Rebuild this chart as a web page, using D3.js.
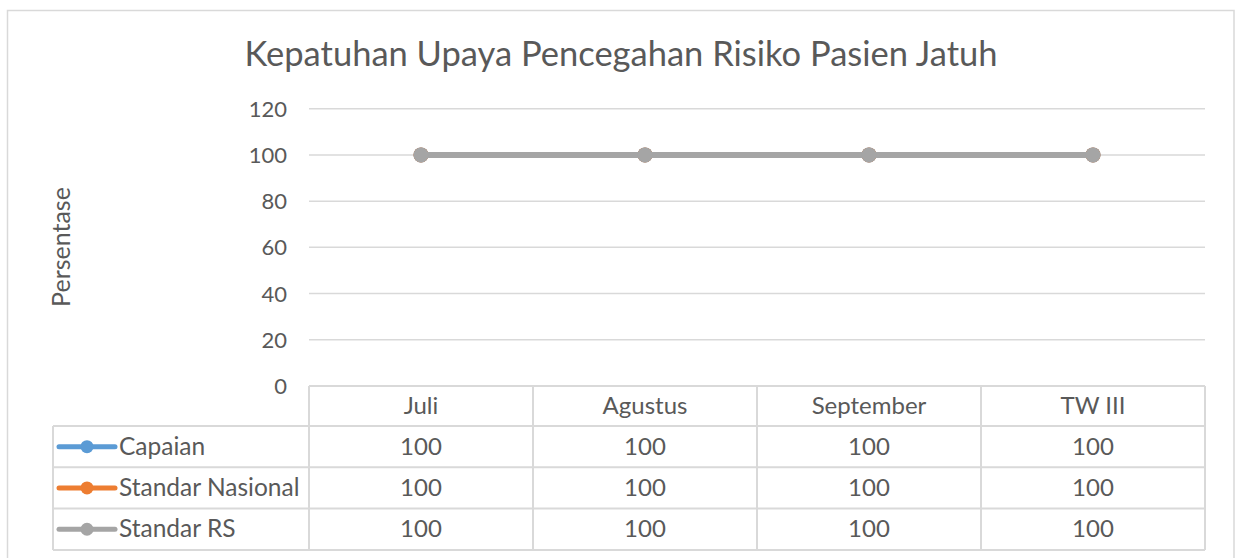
<!DOCTYPE html>
<html>
<head>
<meta charset="utf-8">
<script src="https://cdn.jsdelivr.net/npm/d3@7"></script>
<style>
  body { margin: 0; background: #fff; }
  svg text { font-family: Lato, "Open Sans", sans-serif; fill: #595959; }
</style>
</head>
<body>
<div id="chart"></div>
<script>
// data
const categories = ["Juli", "Agustus", "September", "TW III"];
const seriesNames = ["Capaian", "Standar Nasional", "Standar RS"];
const capaian = [100, 100, 100, 100];
const standarNasional = [100, 100, 100, 100];
const standarRS = [100, 100, 100, 100];
const yTicks = [0, 20, 40, 60, 80, 100, 120];
const colors = ["#5b9bd5", "#ed7d31", "#a5a5a5"];

const series = [capaian, standarNasional, standarRS];

const width = 1237, height = 558;
const grid = "#d9d9d9";

const svg = d3.select("#chart").append("svg")
  .attr("width", width)
  .attr("height", height);

// chart border
svg.append("rect")
  .attr("x", 7.5).attr("y", 10.5)
  .attr("width", 1226.5).attr("height", 560)
  .attr("fill", "none")
  .attr("stroke", grid)
  .attr("stroke-width", 1.5);

// title
svg.append("text")
  .attr("x", 621).attr("y", 66)
  .attr("text-anchor", "middle")
  .style("font-size", "34.5px")
  .text("Kepatuhan Upaya Pencegahan Risiko Pasien Jatuh");

// scales
const x = d3.scaleBand()
  .domain(categories)
  .range([309, 1205]);

const y = d3.scaleLinear()
  .domain([0, 120])
  .range([386, 108.7]);

// gridlines
svg.append("g")
  .selectAll("line")
  .data(yTicks.filter(d => d > 0))
  .enter()
  .append("line")
  .attr("x1", 309).attr("x2", 1205)
  .attr("y1", d => y(d)).attr("y2", d => y(d))
  .attr("stroke", grid)
  .attr("stroke-width", 1.5);

// y tick labels
svg.append("g")
  .selectAll("text")
  .data(yTicks)
  .enter()
  .append("text")
  .attr("x", 287)
  .attr("y", d => y(d) + 8)
  .attr("text-anchor", "end")
  .style("font-size", "22px")
  .text(d => d);

// y axis label
svg.append("text")
  .attr("transform", "translate(70,247) rotate(-90)")
  .attr("text-anchor", "middle")
  .style("font-size", "25px")
  .text("Persentase");

// data table
const tableTop = y(0);
const headH = 40;
const rowH = 41.3;
const legendLeft = 53;

const table = svg.append("g");

// horizontal lines
const hLines = [tableTop, tableTop + headH];
seriesNames.forEach((s, i) => hLines.push(tableTop + headH + rowH * (i + 1)));
hLines.forEach((yy, i) => {
  table.append("line")
    .attr("x1", i === 0 ? 309 : legendLeft).attr("x2", 1205)
    .attr("y1", yy).attr("y2", yy)
    .attr("stroke", grid).attr("stroke-width", 2);
});

// vertical lines
const tableBottom = tableTop + headH + rowH * seriesNames.length;
categories.forEach(c => {
  table.append("line")
    .attr("x1", x(c)).attr("x2", x(c))
    .attr("y1", tableTop).attr("y2", tableBottom)
    .attr("stroke", grid).attr("stroke-width", 2);
});
table.append("line")
  .attr("x1", 1205).attr("x2", 1205)
  .attr("y1", tableTop).attr("y2", tableBottom)
  .attr("stroke", grid).attr("stroke-width", 2);
table.append("line")
  .attr("x1", legendLeft).attr("x2", legendLeft)
  .attr("y1", tableTop + headH).attr("y2", tableBottom)
  .attr("stroke", grid).attr("stroke-width", 2);

// header labels
table.selectAll(".head")
  .data(categories)
  .enter()
  .append("text")
  .attr("class", "head")
  .attr("x", d => x(d) + x.bandwidth() / 2)
  .attr("y", tableTop + headH / 2 + 8)
  .attr("text-anchor", "middle")
  .style("font-size", "24px")
  .text(d => d);

// rows
series.forEach((vals, i) => {
  const cy = tableTop + headH + rowH * i + rowH / 2;

  table.append("line")
    .attr("x1", 59).attr("x2", 115)
    .attr("y1", cy).attr("y2", cy)
    .attr("stroke", colors[i])
    .attr("stroke-width", 5)
    .attr("stroke-linecap", "round");
  table.append("circle")
    .attr("cx", 87).attr("cy", cy).attr("r", 6.5)
    .attr("fill", colors[i]);
  table.append("text")
    .attr("x", 119).attr("y", cy + 8)
    .style("font-size", "24.5px")
    .text(seriesNames[i]);

  vals.forEach((v, j) => {
    table.append("text")
      .attr("x", x(categories[j]) + x.bandwidth() / 2)
      .attr("y", cy + 8)
      .attr("text-anchor", "middle")
      .style("font-size", "24px")
      .text(v);
  });
});

// lines and markers
const line = d3.line()
  .x((d, j) => x(categories[j]) + x.bandwidth() / 2)
  .y(d => y(d));

series.forEach((vals, i) => {
  svg.append("path")
    .datum(vals)
    .attr("d", line)
    .attr("fill", "none")
    .attr("stroke", colors[i])
    .attr("stroke-width", 6);

  svg.append("g")
    .selectAll("circle")
    .data(vals)
    .enter()
    .append("circle")
    .attr("cx", (d, j) => x(categories[j]) + x.bandwidth() / 2)
    .attr("cy", d => y(d))
    .attr("r", 7.5)
    .attr("fill", colors[i]);
});
</script>
</body>
</html>
